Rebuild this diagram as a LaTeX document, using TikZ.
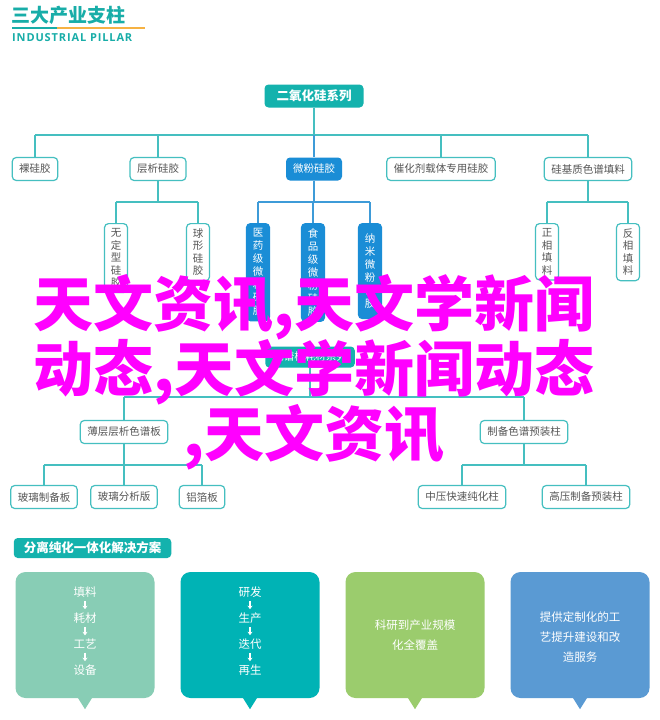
\documentclass[tikz,border=0pt]{standalone}
\usepackage{fontspec}
\setmainfont{Noto Sans CJK SC}
\newfontfamily\pillarfont{Open Sans}[LetterSpace=8]
\usetikzlibrary{arrows.meta}

\definecolor{tealline}{HTML}{45BFC0}
\definecolor{tealfill}{HTML}{14B2AD}
\definecolor{bluefill}{HTML}{1A8DD6}
\definecolor{blueline}{HTML}{3E9BD8}
\definecolor{leaftext}{HTML}{555555}
\definecolor{headteal}{HTML}{18ADA8}
\definecolor{headorange}{HTML}{F6B243}
\definecolor{mintbox}{HTML}{88CDB5}
\definecolor{tealbox}{HTML}{00B3B5}
\definecolor{greenbox}{HTML}{9BCC6D}
\definecolor{bluebox}{HTML}{5A9AD3}
\definecolor{pinktext}{HTML}{FF00FF}

\tikzset{
  leaf/.style={draw=tealline, line width=1.2pt, fill=white, rounded corners=4pt,
    text=leaftext, font=\fontsize{10.5}{12}\selectfont, minimum height=23pt,
    inner xsep=7pt, inner ysep=0pt},
  leafv/.style={leaf, minimum width=23pt, inner xsep=0pt, inner ysep=5pt,
    align=center, anchor=north, font=\fontsize{10.5}{12.5}\selectfont},
  blueleaf/.style={leafv, draw=bluefill, fill=bluefill, text=white,
    minimum height=95pt, font=\fontsize{10.5}{13}\selectfont},
  rootbox/.style={fill=tealfill, rounded corners=4pt, text=white,
    font=\bfseries\fontsize{12.5}{14}\selectfont, minimum height=23pt, inner xsep=12pt},
  link/.style={draw=tealline, line width=1.2pt},
  bluelink/.style={draw=blueline, line width=1.2pt},
  callout/.style={rounded corners=10pt, minimum width=139pt, minimum height=126pt},
  calltext/.style={text=white, font=\fontsize{11.5}{20}\selectfont, align=center},
  stepdown/.style={-{Stealth[length=3.5pt,width=5pt]}, draw=white, line width=1.3pt},
  bigtitle/.style={text=pinktext, font=\bfseries\fontsize{60}{65}\selectfont, anchor=base}
}

\begin{document}
\begin{tikzpicture}[x=1pt, y=-1pt]
  \useasboundingbox[fill=white] (0,0) rectangle (660,720);

  % Titel oben links
  \node[anchor=west, text=headteal, inner sep=0pt, font=\bfseries\fontsize{19}{20}\selectfont] (title) at (11,15) {三大产业支柱};
  \draw[headteal, line width=2pt] (12,28) -- (57,28);
  \draw[headorange, line width=2pt] (57,28) -- (145,28);
  \node[anchor=west, text=headteal, inner sep=0pt, font=\pillarfont\bfseries\fontsize{11}{12}\selectfont] (subtitle) at (12,38) {INDUSTRIAL PILLAR};

  % Baum: Siliziumdioxid
  \node[rootbox] (root) at (314,96) {二氧化硅系列};
  \node[leaf] (bare) at (35,169) {裸硅胶};
  \node[leaf] (tlc) at (158,169) {层析硅胶};
  \node[rootbox, fill=bluefill, font=\fontsize{10.5}{12}\selectfont, inner xsep=7pt] (micro) at (314,169) {微粉硅胶};
  \node[leaf] (cat) at (441,169) {催化剂载体专用硅胶};
  \node[leaf] (phase) at (588,169) {硅基质色谱填料};

  \node[leafv] (amor) at (116,223) {无\\定\\型\\硅\\胶};
  \node[leafv] (sphere) at (198,223) {球\\形\\硅\\胶};
  \node[blueleaf] (med) at (258,223) {医\\药\\级\\微\\粉\\硅\\胶};
  \node[blueleaf] (food) at (313,223) {食\\品\\级\\微\\粉\\硅\\胶};
  \node[blueleaf] (nano) at (370,223) {纳\\米\\微\\粉\\硅\\胶};
  \node[leafv] (normal) at (547,223) {正\\相\\填\\料};
  \node[leafv] (reverse) at (628,223) {反\\相\\填\\料};

  \coordinate (bus1) at (314,135);
  \coordinate (bus2) at (314,202);
  \draw[link] (root) -- (bus1);
  \draw[link] (bare.north |- bus1) -- (phase.north |- bus1);
  \foreach \n in {bare,tlc,cat,phase}
    \draw[link] (\n.north |- bus1) -- (\n.north);
  \draw[bluelink] (bus1) -- (micro.north);

  \draw[link] (tlc) -- (tlc.south |- bus2);
  \draw[link] (amor.north |- bus2) -- (sphere.north |- bus2);
  \draw[bluelink] (micro) -- (micro.south |- bus2);
  \draw[bluelink] (med.north |- bus2) -- (nano.north |- bus2);
  \draw[link] (phase) -- (phase.south |- bus2);
  \draw[link] (normal.north |- bus2) -- (reverse.north |- bus2);
  \foreach \n in {amor,sphere,normal,reverse}
    \draw[link] (\n.north |- bus2) -- (\n.north);
  \foreach \n in {med,food,nano}
    \draw[bluelink] (\n.north |- bus2) -- (\n.north);

  % Baum: Saeulen und Platten
  \node[rootbox, minimum height=21pt, inner xsep=8pt, font=\fontsize{10.5}{12}\selectfont] (col) at (310,357) {色谱柱耗材系列};
  \node[leaf] (tlcplate) at (124,432) {薄层层析色谱板};
  \node[leaf] (prep) at (524,432) {制备色谱预装柱};
  \node[leaf] (glassprep) at (44,497) {玻璃制备板};
  \node[leaf] (glassana) at (124,497) {玻璃分析版};
  \node[leaf] (foil) at (202,497) {铝箔板};
  \node[leaf] (medium) at (462,497) {中压快速纯化柱};
  \node[leaf] (high) at (586,497) {高压制备预装柱};

  \coordinate (bus3) at (310,397);
  \coordinate (bus4) at (310,465);
  \draw[link] (col) -- (bus3);
  \draw[link] (tlcplate.north |- bus3) -- (prep.north |- bus3);
  \foreach \n in {tlcplate,prep}
    \draw[link] (\n.north |- bus3) -- (\n.north);
  \draw[link] (tlcplate) -- (tlcplate.south |- bus4);
  \draw[link] (prep) -- (prep.south |- bus4);
  \draw[link] (glassprep.north |- bus4) -- (foil.north |- bus4);
  \draw[link] (medium.north |- bus4) -- (high.north |- bus4);
  \foreach \n in {glassprep,glassana,foil,medium,high}
    \draw[link] (\n.north |- bus4) -- (\n.north);

  % Loesungen unten
  \node[rootbox, minimum height=20pt, inner xsep=10pt] (plan) at (92.5,548) {分离纯化一体化解决方案};

  \foreach \b/\x/\c in {boxfill/85/mintbox, boxrd/250/tealbox, boxsci/415/greenbox, boxsvc/580/bluebox}{
    \node[callout, fill=\c] (\b) at (\x,635) {};
    \fill[\c] ([xshift=-7.5pt,yshift=1pt]\b.south) -- ([yshift=-11pt]\b.south) -- ([xshift=7.5pt,yshift=1pt]\b.south) -- cycle;
  }

  \foreach \t [count=\i] in {填料,耗材,工艺,设备}
    \node[calltext] (fill\i) at (85,566+26*\i) {\t};
  \foreach \t [count=\i] in {研发,生产,迭代,再生}
    \node[calltext] (rd\i) at (250,566+26*\i) {\t};
  \foreach \i/\j in {1/2,2/3,3/4}{
    \draw[stepdown] (fill\i) -- (fill\j);
    \draw[stepdown] (rd\i) -- (rd\j);
  }
  \node[calltext] (sci) at (415,635) {科研到产业规模\\化全覆盖};
  \node[calltext] (svc) at (580,637) {提供定制化的工\\艺提升建设和改\\造服务};

  % Ueberlagerter Text
  \node[bigtitle] (mag1) at (314,326) {天文资讯,天文学新闻};
  \node[bigtitle] (mag2) at (314,391) {动态,天文学新闻动态};
  \node[bigtitle] (mag3) at (314,456) {,天文资讯};
\end{tikzpicture}
\end{document}
